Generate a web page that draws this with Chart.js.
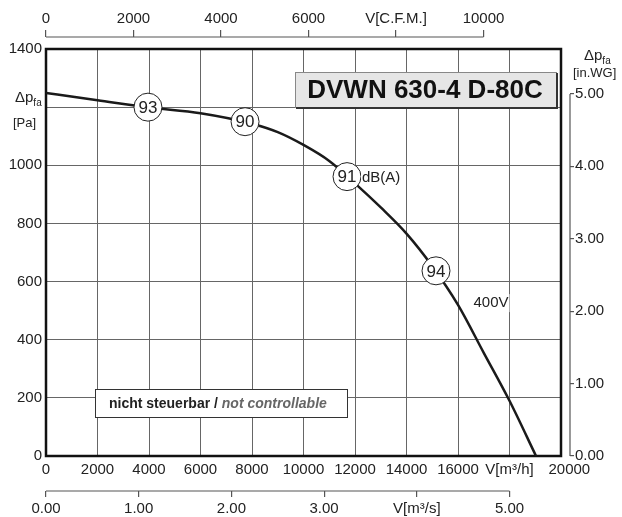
<!DOCTYPE html>
<html>
<head>
<meta charset="utf-8">
<script src="https://cdn.jsdelivr.net/npm/chart.js@4.4.1/dist/chart.umd.min.js"></script>
<style>
  html, body { margin: 0; padding: 0; background: #fff; }
  #wrap { width: 622px; height: 517px; }
</style>
</head>
<body>
<div id="wrap"><canvas id="fanChart"></canvas></div>
<script>
// fan curve: volume flow [m3/h] vs static pressure [Pa]
var flowM3h = [0, 2000, 4000, 6000, 8000, 9000, 10000, 11000, 12000, 13000, 14000, 15000, 16000, 17000, 18000, 19030];
var pressurePa = [1249, 1224, 1199, 1179, 1143, 1114, 1070, 1015, 938, 855, 765, 653, 520, 355, 190, 0];

// sound level circles sitting on the curve
var markerFlow = [3960, 7730, 11690, 15146];
var markerPressure = [1200, 1150, 961, 637];
var markerLabels = ["93", "90", "91", "94"];

// tick values of the five axes
var flowTicks = [0, 2000, 4000, 6000, 8000, 10000, 12000, 14000, 16000, 18000, 20000];
var pressureTicks = [0, 200, 400, 600, 800, 1000, 1200, 1400];
var cfmTicks = [0, 2000, 4000, 6000, 8000, 10000];
var m3sTicks = [0, 1, 2, 3, 4, 5];
var inwgTicks = [0, 1, 2, 3, 4, 5];

var M3H_PER_CFM = 1.699;
var M3H_PER_M3S = 3600;
var PA_PER_INWG = 249.09;

var FONT = "'Liberation Sans', Arial, sans-serif";
Chart.defaults.font.family = FONT;
Chart.defaults.font.size = 15;
Chart.defaults.color = "#222";

function setTicks(list) {
  return function (scale) {
    scale.ticks = list.map(function (v) { return { value: v }; });
  };
}
function fixHeight(h) { return function (scale) { scale.height = h; }; }
function fixWidth(w) { return function (scale) { scale.width = w; }; }

function spacer(pos, w, size) {
  return {
    type: "linear", position: pos, weight: w, display: true,
    ticks: { display: false }, grid: { display: false }, border: { display: false },
    afterFit: (pos === "top" || pos === "bottom") ? fixHeight(size) : fixWidth(size)
  };
}

function drawDeltaP(ctx, x, y) {
  ctx.font = "15px " + FONT;
  ctx.textAlign = "left";
  ctx.textBaseline = "alphabetic";
  ctx.fillText("\u0394p", x, y);
  var w = ctx.measureText("\u0394p").width;
  ctx.font = "10px " + FONT;
  ctx.fillText("fa", x + w, y + 4);
}

function textWithBg(ctx, txt, x, y) {
  var w = ctx.measureText(txt).width;
  ctx.fillStyle = "#fff";
  ctx.fillRect(x - 1, y - 9, w + 2, 18);
  ctx.fillStyle = "#222";
  ctx.fillText(txt, x, y);
}

var decorations = {
  id: "decorations",
  beforeDatasetsDraw: function (chart) {
    var ctx = chart.ctx;
    var a = chart.chartArea;
    var s = chart.scales;
    ctx.save();

    // outer frame
    ctx.strokeStyle = "#111";
    ctx.lineWidth = 2.5;
    ctx.strokeRect(a.left, a.top, a.right - a.left, a.bottom - a.top);

    // secondary axis lines only as long as their ticks
    ctx.strokeStyle = "#555";
    ctx.lineWidth = 1.2;
    ctx.beginPath();
    ctx.moveTo(s.xc.getPixelForValue(0), s.xc.bottom);
    ctx.lineTo(s.xc.getPixelForValue(10000), s.xc.bottom);
    ctx.moveTo(s.xs.getPixelForValue(0), s.xs.top);
    ctx.lineTo(s.xs.getPixelForValue(5), s.xs.top);
    ctx.moveTo(s.y2.left, s.y2.getPixelForValue(0));
    ctx.lineTo(s.y2.left, s.y2.getPixelForValue(5));
    ctx.stroke();

    // type box
    ctx.fillStyle = "#e6e6e6";
    ctx.fillRect(295, 72, 261, 35);
    ctx.strokeStyle = "#888";
    ctx.lineWidth = 1;
    ctx.strokeRect(295.5, 72.5, 261, 35);
    ctx.strokeStyle = "#333";
    ctx.lineWidth = 2;
    ctx.beginPath();
    ctx.moveTo(296, 108); ctx.lineTo(557, 108); ctx.lineTo(557, 73);
    ctx.stroke();
    ctx.fillStyle = "#111";
    ctx.font = "bold 26px " + FONT;
    ctx.textAlign = "center";
    ctx.textBaseline = "middle";
    ctx.fillText("DVWN 630-4 D-80C", 425, 91);

    // note box
    ctx.fillStyle = "#fff";
    ctx.fillRect(95, 389, 252, 28);
    ctx.strokeStyle = "#333";
    ctx.lineWidth = 1;
    ctx.strokeRect(95.5, 389.5, 252, 28);
    ctx.textAlign = "left";
    ctx.font = "bold 14px " + FONT;
    ctx.fillStyle = "#222";
    var t1 = "nicht steuerbar / ";
    ctx.fillText(t1, 109, 404);
    var w1 = ctx.measureText(t1).width;
    ctx.font = "italic bold 14px " + FONT;
    ctx.fillStyle = "#666";
    ctx.fillText("not controllable", 109 + w1, 404);

    // axis titles
    ctx.fillStyle = "#222";
    drawDeltaP(ctx, 15, 102);
    ctx.font = "13px " + FONT;
    ctx.fillText("[Pa]", 13, 127);
    drawDeltaP(ctx, 584, 60);
    ctx.font = "13px " + FONT;
    ctx.fillText("[in.WG]", 573, 77);
    ctx.restore();
  },
  afterDatasetsDraw: function (chart) {
    var ctx = chart.ctx;
    var meta = chart.getDatasetMeta(1);
    ctx.save();
    ctx.font = "17px " + FONT;
    ctx.textAlign = "center";
    ctx.textBaseline = "middle";
    ctx.fillStyle = "#222";
    meta.data.forEach(function (pt, i) {
      ctx.fillText(markerLabels[i], pt.x, pt.y + 1);
    });
    ctx.textAlign = "left";
    ctx.font = "15px " + FONT;
    var p91 = meta.data[2];
    textWithBg(ctx, "dB(A)", p91.x + 15, p91.y + 1);
    var sx = chart.scales.x, sy = chart.scales.y;
    textWithBg(ctx, "400V", sx.getPixelForValue(16600), sy.getPixelForValue(526));
    ctx.restore();
  }
};

var curvePoints = flowM3h.map(function (q, i) { return { x: q, y: pressurePa[i] }; });
var markerPoints = markerFlow.map(function (q, i) { return { x: q, y: markerPressure[i] }; });

new Chart(document.getElementById("fanChart"), {
  type: "line",
  data: {
    datasets: [{
      label: "400V",
      data: curvePoints,
      order: 2,
      borderColor: "#1a1a1a",
      borderWidth: 2.5,
      pointRadius: 0,
      cubicInterpolationMode: "monotone",
      fill: false
    }, {
      label: "dB(A)",
      type: "scatter",
      data: markerPoints,
      order: 1,
      pointRadius: 14,
      pointBackgroundColor: "#fff",
      pointBorderColor: "#222",
      pointBorderWidth: 1
    }]
  },
  options: {
    responsive: true,
    maintainAspectRatio: false,
    animation: false,
    events: [],
    layout: { padding: 0 },
    plugins: { legend: { display: false }, tooltip: { enabled: false } },
    scales: {
      x: {
        type: "linear", position: "bottom", weight: 0, min: 0, max: 20000,
        afterBuildTicks: setTicks(flowTicks),
        ticks: {
          autoSkip: false, maxRotation: 0, padding: 5,
          callback: function (v) {
            if (v === 18000) return "V[m\u00b3/h]";
            if (v === 20000) return "    20000";
            return String(v);
          }
        },
        grid: { color: "#666", lineWidth: 1, drawTicks: false },
        border: { display: false },
        afterFit: fixHeight(35)
      },
      xs: {
        type: "linear", position: "bottom", weight: 1, min: 0, max: 20000 / M3H_PER_M3S,
        afterBuildTicks: setTicks(m3sTicks),
        ticks: {
          autoSkip: false, maxRotation: 0, padding: 3,
          callback: function (v) { return v === 4 ? "V[m\u00b3/s]" : v.toFixed(2); }
        },
        grid: { drawOnChartArea: false, drawTicks: true, tickLength: 6, color: "#555", lineWidth: 1.2 },
        border: { display: false },
        afterFit: fixHeight(26)
      },
      gapTop: spacer("top", 0, 12),
      xc: {
        type: "linear", position: "top", weight: 1, min: 0, max: 20000 / M3H_PER_CFM,
        afterBuildTicks: setTicks(cfmTicks),
        ticks: {
          autoSkip: false, maxRotation: 0, padding: 2,
          callback: function (v) { return v === 8000 ? "V[C.F.M.]" : String(v); }
        },
        grid: { drawOnChartArea: false, drawTicks: true, tickLength: 7, color: "#555", lineWidth: 1.2 },
        border: { display: false },
        afterFit: fixHeight(37)
      },
      y: {
        type: "linear", position: "left", weight: 0, min: 0, max: 1400,
        afterBuildTicks: setTicks(pressureTicks),
        ticks: {
          padding: 4,
          callback: function (v) { return v === 1200 ? "" : String(v); }
        },
        grid: { color: "#666", lineWidth: 1, drawTicks: false },
        border: { display: false },
        afterFit: fixWidth(46)
      },
      gapRight: spacer("right", 0, 9),
      y2: {
        type: "linear", position: "right", weight: 1, min: 0, max: 1400 / PA_PER_INWG,
        afterBuildTicks: setTicks(inwgTicks),
        ticks: {
          padding: 1,
          callback: function (v) { return v.toFixed(2); }
        },
        grid: { drawOnChartArea: false, drawTicks: true, tickLength: 4, color: "#555", lineWidth: 1.2 },
        border: { display: false },
        afterFit: fixWidth(52)
      }
    }
  },
  plugins: [decorations]
});
</script>
</body>
</html>
